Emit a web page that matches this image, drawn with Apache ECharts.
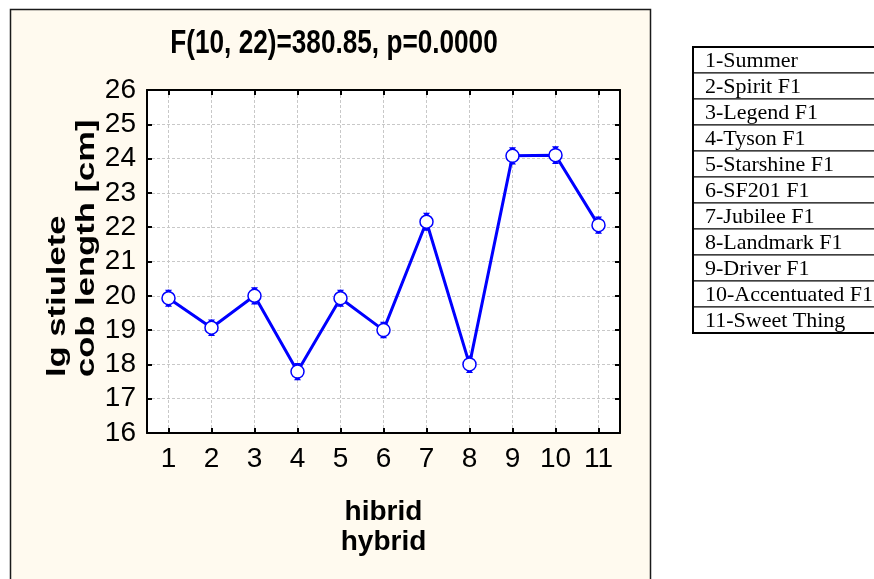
<!DOCTYPE html>
<html>
<head>
<meta charset="utf-8">
<script src="https://cdn.jsdelivr.net/npm/echarts@6/dist/echarts.min.js"></script>
<style>
  html, body { margin: 0; background: #fff; }
  #chart { width: 874px; height: 579px; }
</style>
</head>
<body>
<div id="chart"></div>
<script>
// hybrid numbers on the x axis and their names in the side table
const hybridNo = [1, 2, 3, 4, 5, 6, 7, 8, 9, 10, 11];
const hybridNames = [
  "1-Summer", "2-Spirit F1", "3-Legend F1", "4-Tyson F1", "5-Starshine F1", "6-SF201 F1",
  "7-Jubilee F1", "8-Landmark F1", "9-Driver F1", "10-Accentuated F1", "11-Sweet Thing"
];
// mean cob length (cm) and the +/- error
const means = [19.93, 19.07, 20.0, 17.79, 19.93, 19.0, 22.16, 18.0, 24.08, 24.1, 22.06];
const errors = [0.25, 0.24, 0.25, 0.25, 0.25, 0.24, 0.26, 0.25, 0.25, 0.26, 0.25];
const yMin = 16, yMax = 26, yStep = 1;

const SANS = '"Liberation Sans", Arial, sans-serif';
const BLUE = "#0000ff";

const chart = echarts.init(document.getElementById("chart"));

const tableTop = 47, rowH = 26, tableLeft = 693;
const tableRows = hybridNames.map((name, i) => ({
  type: "group",
  children: [
    { type: "rect", shape: { x: tableLeft, y: tableTop + i * rowH, width: 220, height: rowH },
      style: { fill: "#fff", stroke: "#000", lineWidth: 1 } },
    { type: "text", x: tableLeft + 12, y: tableTop + i * rowH + rowH / 2 + 1,
      style: { text: name, font: '22px "Liberation Serif", "Times New Roman", serif', fill: "#000", verticalAlign: "middle" } },
  ],
}));

chart.setOption({
  backgroundColor: "#fff",
  animation: false,
  graphic: [
    { type: "rect", z: -100, shape: { x: 10.5, y: 9.5, width: 640, height: 600 },
      style: { fill: "#fffaef", stroke: "#1a1a1a", lineWidth: 1.5 } },
    // title (the original font is a condensed bold sans)
    { type: "text", x: 334, y: 27, scaleX: 0.77,
      style: { text: "F(10, 22)=380.85, p=0.0000", font: "bold 34px " + SANS, fill: "#000",
        align: "center", verticalAlign: "top" } },
    // y axis title, left aligned and stretched along the axis like the original
    { type: "text", x: 43, y: 377, rotation: Math.PI / 2, scaleX: 1.33,
      style: { text: "lg stiulete\ncob length [cm]", font: "bold 26px " + SANS,
        fill: "#000", align: "left", verticalAlign: "top", lineHeight: 29 } },
    ...tableRows,
    { type: "rect", shape: { x: tableLeft, y: tableTop, width: 220, height: rowH * hybridNames.length },
      style: { fill: "none", stroke: "#000", lineWidth: 2 } },
  ],
  grid: { left: 147, top: 90, width: 473, height: 343, show: true, backgroundColor: "#fff", borderWidth: 0 },
  xAxis: [
    {
      type: "value", min: 0.5, max: 11.5, position: "bottom",
      name: "hibrid\nhybrid", nameLocation: "middle", nameGap: 64,
      nameTextStyle: { fontFamily: SANS, fontSize: 28, fontWeight: "bold", color: "#000", lineHeight: 30 },
      axisLine: { show: true, lineStyle: { color: "#000", width: 2 } },
      axisTick: { show: true, inside: true, length: 5, customValues: hybridNo, lineStyle: { color: "#000", width: 2 } },
      axisLabel: { customValues: hybridNo, fontFamily: SANS, fontSize: 28, color: "#000", margin: 12 },
      splitLine: { show: true, lineStyle: { color: "#c8c8c8", type: [3, 2], width: 1 } },
    },
    {
      type: "value", min: 0.5, max: 11.5, position: "top",
      axisLine: { show: true, lineStyle: { color: "#000", width: 2 } },
      axisTick: { show: true, inside: true, length: 5, customValues: hybridNo, lineStyle: { color: "#000", width: 2 } },
      axisLabel: { show: false },
      splitLine: { show: false },
    },
  ],
  yAxis: [
    {
      type: "value", min: yMin, max: yMax, interval: yStep, position: "left",
      axisLine: { show: true, lineStyle: { color: "#000", width: 2 } },
      axisTick: { show: true, inside: true, length: 5, lineStyle: { color: "#000", width: 2 } },
      axisLabel: { fontFamily: SANS, fontSize: 28, color: "#000", margin: 11 },
      splitLine: { show: true, lineStyle: { color: "#c8c8c8", type: [3, 2], width: 1 } },
    },
    {
      type: "value", min: yMin, max: yMax, interval: yStep, position: "right",
      axisLine: { show: true, lineStyle: { color: "#000", width: 2 } },
      axisTick: { show: true, inside: true, length: 5, lineStyle: { color: "#000", width: 2 } },
      axisLabel: { show: false },
      splitLine: { show: false },
    },
  ],
  series: [
    {
      type: "custom",
      z: 2,
      data: hybridNo.map((n, i) => [n, means[i] - errors[i], means[i] + errors[i]]),
      renderItem: (params, api) => {
        const top = api.coord([api.value(0), api.value(2)]);
        const bot = api.coord([api.value(0), api.value(1)]);
        const x = top[0];
        return {
          type: "group",
          children: [
            { type: "line", shape: { x1: x, y1: top[1], x2: x, y2: bot[1] }, style: { stroke: BLUE, lineWidth: 1.5 } },
            { type: "polygon", shape: { points: [[x - 3.5, top[1]], [x + 3.5, top[1]], [x, top[1] + 5]] }, style: { fill: BLUE } },
            { type: "polygon", shape: { points: [[x - 3.5, bot[1]], [x + 3.5, bot[1]], [x, bot[1] - 5]] }, style: { fill: BLUE } },
          ],
        };
      },
    },
    {
      type: "line",
      z: 3,
      data: hybridNo.map((n, i) => [n, means[i]]),
      symbol: "circle",
      symbolSize: 13,
      lineStyle: { color: BLUE, width: 3 },
      itemStyle: { color: "#fff", borderColor: BLUE, borderWidth: 1.5 },
    },
  ],
});
</script>
</body>
</html>
